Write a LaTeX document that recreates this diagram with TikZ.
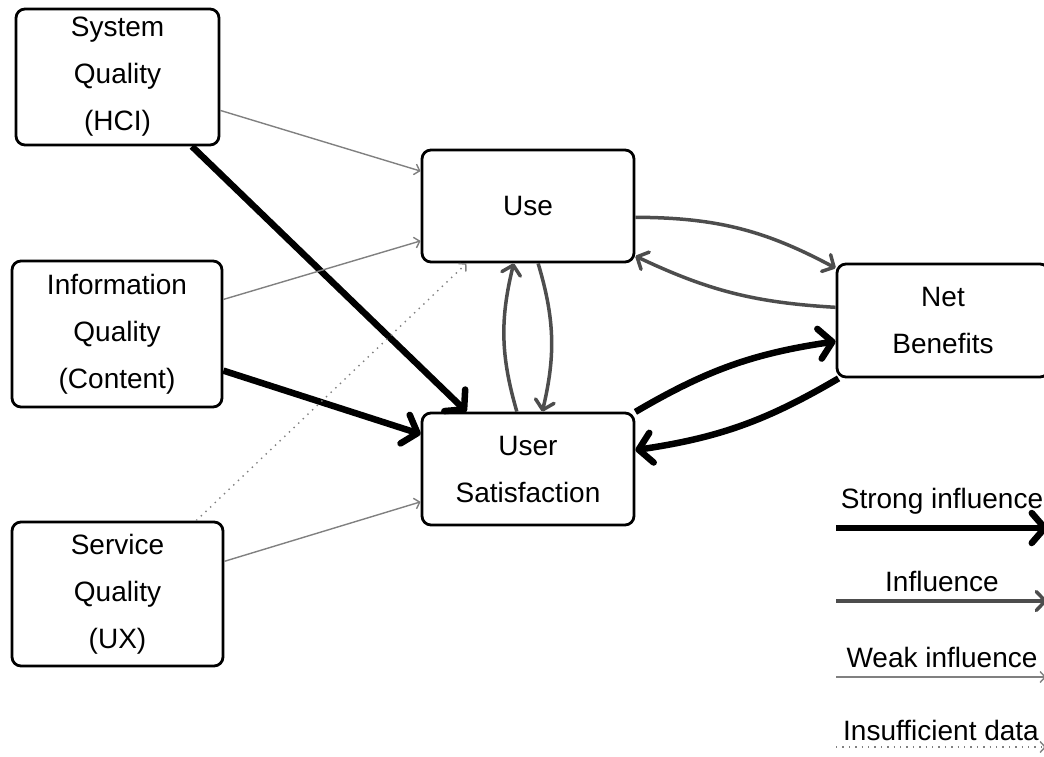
\documentclass[tikz,border=0pt]{standalone}
\usepackage{xcolor}
\usepackage{fontspec}
\setmainfont{Liberation Sans}
\usetikzlibrary{arrows.meta}

\definecolor{infgray}{RGB}{77,77,77}
\definecolor{weakgray}{RGB}{128,128,128}

\begin{document}
\begin{tikzpicture}[x=1pt,y=-1pt,
  box/.style={draw, line width=2.8pt, rounded corners=9pt, align=center, inner sep=0pt,
    font=\fontsize{28}{47}\selectfont},
  txt/.style={anchor=base, inner sep=0pt, font=\fontsize{28}{32}\selectfont},
  strong/.style={line width=6.5pt, -{Straight Barb[length=13pt,width=30pt,round]}},
  infl/.style={color=infgray, line width=3.5pt, -{Straight Barb[length=9pt,width=19pt,round]}},
  weak/.style={color=weakgray, line width=1.4pt, -{Straight Barb[length=5pt,width=11pt]}},
  nodata/.style={color=weakgray, line width=1.4pt, dash pattern=on 1.4pt off 5pt, -{Straight Barb[length=5pt,width=11pt]}}]
\useasboundingbox (0,0) rectangle (1044,756);

% Boxes
\node [box, minimum width=203pt, minimum height=136pt] (sysq) at (117.5,77) {System\\Quality\\(HCI)};
\node [box, minimum width=210pt, minimum height=146pt] (infq) at (117,334) {Information\\Quality\\(Content)};
\node [box, minimum width=211pt, minimum height=144pt] (srvq) at (117.5,594) {Service\\Quality\\(UX)};
\node [box, minimum width=212pt, minimum height=112pt] (use) at (528,206) {Use};
\node [box, minimum width=212pt, minimum height=112pt] (usat) at (528,469) {User\\Satisfaction};
\node [box, minimum width=212pt, minimum height=113pt] (net) at (943,320.5) {Net\\Benefits};

% Quality -> Use / User Satisfaction
\draw [weak] (sysq.-18) -- (use.162);
\draw [strong] (sysq.-43) -- (usat.137);
\draw [weak] (infq.18) -- (use.198);
\draw [strong] (infq.-19) -- (usat.162);
\draw [nodata] (srvq.43) -- (use.-137);
\draw [weak] (srvq.17) -- (usat.197);

% Use <-> User Satisfaction
\draw [infl] (use.-80) to[bend left=15] (usat.76);
\draw [infl] (usat.101) to[bend left=15] (use.-104);

% Use / User Satisfaction <-> Net Benefits
\draw [infl] (use.-6) to[bend left=14] (net.154.5);
\draw [infl] (net.173) to[bend left=11] (use.-25.7);
\draw [strong] (usat.28) to[bend left=11] (net.-169.6);
\draw [strong] (net.-151.3) to[bend left=11] (usat.10.7);

% Legend
\node [txt] (lgstrong) at (942,508) {Strong influence};
\node [txt] (lginfl) at (942,591) {Influence};
\node [txt] (lgweak) at (942,667) {Weak influence};
\node [txt] (lgnodata) at (941,740) {Insufficient data};
\coordinate (sa) at (836,528); \coordinate (sb) at (1048,528);
\coordinate (ia) at (836,601); \coordinate (ib) at (1047,601);
\coordinate (wa) at (836,677); \coordinate (wb) at (1046,677);
\coordinate (na) at (836,747); \coordinate (nb) at (1046,747);
\draw [strong] (sa) -- (sb);
\draw [infl] (ia) -- (ib);
\draw [weak] (wa) -- (wb);
\draw [nodata] (na) -- (nb);

\end{tikzpicture}
\end{document}
